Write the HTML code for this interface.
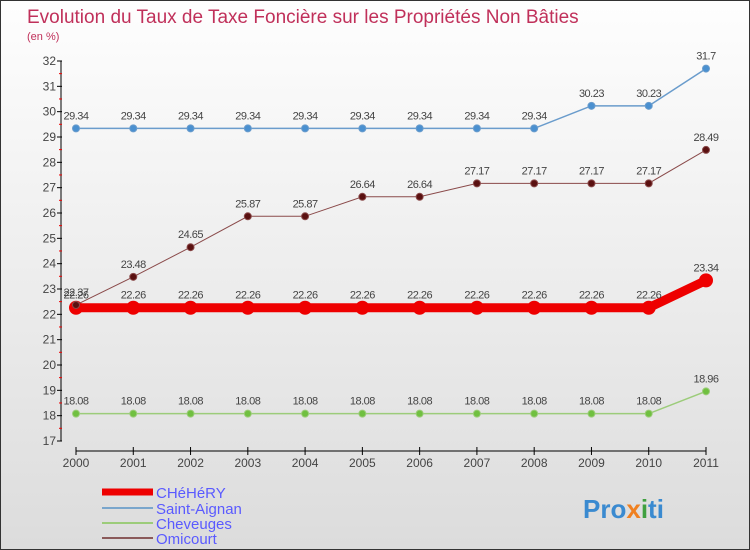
<!DOCTYPE html>
<html><head><meta charset="utf-8"><style>
body{margin:0;}
#c{position:relative;width:748px;height:548px;border:1px solid #333;background:linear-gradient(#fefefe,#dcdcdc);overflow:hidden;font-family:"Liberation Sans",sans-serif;}
</style></head><body>
<div id="c">
<svg id="s" width="748" height="548" xmlns="http://www.w3.org/2000/svg">
<text x="26" y="22" font-size="19" fill="#c0305a">Evolution du Taux de Taxe Foncière sur les Propriétés Non Bâties</text>
<text x="26" y="39" font-size="11" fill="#c0305a">(en %)</text>
<g id="axes"></g><g id="series"></g>
<g>
<line x1="101" y1="491" x2="152" y2="491" stroke="#e00" stroke-width="7"/>
<text x="155" y="497" font-size="15" fill="#5a5aff">CHéHéRY</text>
<line x1="101" y1="507" x2="152" y2="507" stroke="#7aa6cc" stroke-width="2"/>
<text x="155" y="513" font-size="15" fill="#5a5aff">Saint-Aignan</text>
<line x1="101" y1="522" x2="152" y2="522" stroke="#9ccc7a" stroke-width="2"/>
<text x="155" y="528" font-size="15" fill="#5a5aff">Cheveuges</text>
<line x1="101" y1="537" x2="152" y2="537" stroke="#8a5a5a" stroke-width="2"/>
<text x="155" y="543" font-size="15" fill="#5a5aff">Omicourt</text>
</g>
<text x="582" y="517" font-size="26" font-weight="bold" fill="#3a8ad0">Pro<tspan fill="#f08020">x</tspan><tspan fill="#40a040">i</tspan>ti</text>
</svg>
</div>
<script>
const years=[2000,2001,2002,2003,2004,2005,2006,2007,2008,2009,2010,2011];
const yTicks=[17,18,19,20,21,22,23,24,25,26,27,28,29,30,31,32];
const chehery=[22.26,22.26,22.26,22.26,22.26,22.26,22.26,22.26,22.26,22.26,22.26,23.34];
const saintAignan=[29.34,29.34,29.34,29.34,29.34,29.34,29.34,29.34,29.34,30.23,30.23,31.7];
const cheveuges=[18.08,18.08,18.08,18.08,18.08,18.08,18.08,18.08,18.08,18.08,18.08,18.96];
const omicourt=[22.37,23.48,24.65,25.87,25.87,26.64,26.64,27.17,27.17,27.17,27.17,28.49];
const NS="http://www.w3.org/2000/svg";
function xs(i){return 75+i*(630/11);}
function ys(v){return 60+(32-v)*(380/15);}
function mk(tag,at,parent){const e=document.createElementNS(NS,tag);for(const k in at)e.setAttribute(k,at[k]);parent.appendChild(e);return e;}
const ax=document.getElementById('axes');
let yl=mk('line',{x1:60,y1:60,x2:60,y2:440,stroke:'#000'},ax);


yTicks.forEach(t=>{
 const y=ys(t);
 let tk=mk('line',{x1:56,y1:y,x2:61,y2:y,stroke:'#000'},ax);
 
 
 if(t<32){let m=mk('line',{x1:58,y1:y-12.7,x2:61,y2:y-12.7,stroke:'#e00'},ax);
 
 }
 let tx=mk('text',{x:55,y:y+4,'font-size':12,fill:'#444','text-anchor':'end'},ax);tx.textContent=t;
 
 
});
let xl=mk('line',{x1:75,y1:450,x2:705,y2:450,stroke:'#000'},ax);


years.forEach((yr,i)=>{
 let tk=mk('line',{x1:xs(i),y1:446,x2:xs(i),y2:454,stroke:'#000'},ax);
 
 
 let tx=mk('text',{x:xs(i),y:466,'font-size':12,fill:'#444','text-anchor':'middle'},ax);tx.textContent=yr;
 
 
});
const sg=document.getElementById('series');
function draw(vals,name,color,w,r,dot){
 const g=mk('g',{},sg);
 
 
 let p=mk('polyline',{points:vals.map((v,i)=>xs(i)+','+ys(v)).join(' '),fill:'none',stroke:color,'stroke-width':w},g);
 
 
 vals.forEach((v,i)=>{
  let c=mk('circle',{cx:xs(i),cy:ys(v),r:r,fill:dot,stroke:color,'stroke-width':1},g);
  
  
  let t=mk('text',{x:xs(i),y:ys(v)-9,'font-size':11,fill:'#444','text-anchor':'middle','letter-spacing':'-0.5'},g);t.textContent=v;
  
  
 });
}
draw(saintAignan,'saint-aignan','#6a9ccc',1.5,3.5,'#4a90d0');
draw(cheveuges,'cheveuges','#9ccc7a',1.5,3.5,'#70c040');
draw(chehery,'chehery','#ee0000',9,6.5,'#ee0000');
draw(omicourt,'omicourt','#8a4a4a',1,3.5,'#5a1010');
</script>
</body></html>
